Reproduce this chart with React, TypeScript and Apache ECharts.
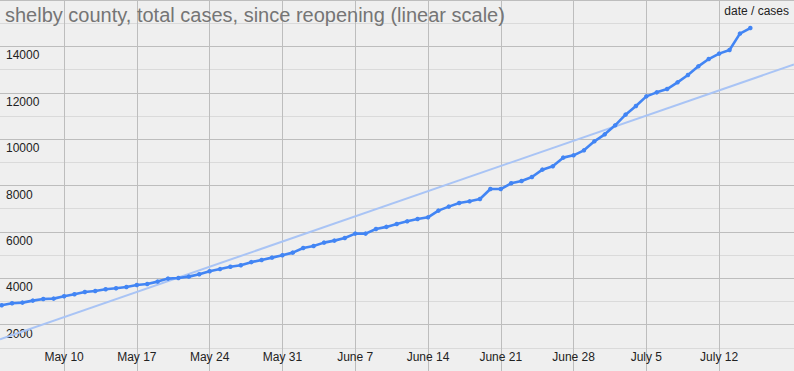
import React, { useEffect, useRef } from "react";
import * as echarts from "echarts";

// day index 0 = May 4 ... 72 = July 15
const cases = [
  2833, 2919, 2949, 3036, 3105, 3122, 3221, 3307, 3407, 3450,
  3523, 3566, 3622, 3708, 3751, 3855, 3984, 4010, 4070, 4170,
  4305, 4395, 4495, 4558, 4695, 4786, 4889, 4989, 5105, 5304,
  5390, 5536, 5623, 5735, 5925, 5925, 6123, 6215, 6339, 6455,
  6554, 6627, 6916, 7089, 7244, 7317, 7416, 7848, 7848, 8094,
  8193, 8365, 8684, 8827, 9202, 9301, 9517, 9905, 10206, 10594,
  11056, 11427, 11845, 12017, 12160, 12449, 12764, 13139, 13454, 13687,
  13842, 14549, 14790,
];

const tickDays = [6, 13, 20, 27, 34, 41, 48, 55, 62, 69];
const tickLabels = [
  "May 10", "May 17", "May 24", "May 31", "June 7",
  "June 14", "June 21", "June 28", "July 5", "July 12",
];

const xMin = -0.16;
const xMax = 76.2;
const trendDays = [xMin, xMax];
const trendValues = [1367, 13220];

const FONT = '"Liberation Sans", Arial, sans-serif';

export default function App() {
  const ref = useRef<HTMLDivElement>(null);

  useEffect(() => {
    if (!ref.current) return;
    const chart = echarts.init(ref.current, undefined, { renderer: "svg" });
    chart.setOption({
      animation: false,
      backgroundColor: "#efefef",
      textStyle: { fontFamily: FONT },
      title: [
        {
          text: "shelby county, total cases, since reopening (linear scale)",
          left: 5,
          top: 5,
          padding: 0,
          textStyle: { fontFamily: FONT, fontSize: 20, fontWeight: "normal", color: "#757575" },
        },
        {
          text: "date / cases",
          right: 5,
          top: 5,
          padding: 0,
          textStyle: { fontFamily: FONT, fontSize: 12, fontWeight: "normal", color: "#222" },
        },
      ],
      grid: { left: 0, right: 0, top: 0, bottom: 0, containLabel: false },
      xAxis: {
        type: "value",
        min: xMin,
        max: xMax,
        axisLine: { show: false },
        axisTick: { show: false, customValues: tickDays },
        axisLabel: {
          inside: true,
          margin: 8,
          customValues: tickDays,
          color: "#222",
          fontSize: 12,
          fontFamily: FONT,
          formatter: (v: number) => {
            const k = tickDays.indexOf(Math.round(v));
            return k >= 0 ? tickLabels[k] : "";
          },
        },
        splitLine: { show: true, lineStyle: { color: "#bdbdbd", width: 1 } },
      },
      yAxis: {
        type: "value",
        min: 0,
        max: 16000,
        interval: 1000,
        axisLine: { show: false },
        axisTick: { show: false },
        axisLabel: {
          inside: true,
          margin: 6,
          color: "#222",
          fontSize: 12,
          fontFamily: FONT,
          verticalAlign: "top",
          padding: [3, 0, 0, 0],
          formatter: (v: number) => (v % 2000 === 0 && v > 0 && v < 16000 ? String(v) : ""),
        },
        splitLine: { show: true, lineStyle: { color: ["#bdbdbd", "#dadada"], width: 1 } },
      },
      series: [
        {
          type: "line",
          data: trendDays.map((d, i) => [d, trendValues[i]]),
          showSymbol: false,
          silent: true,
          lineStyle: { color: "#a9c4f5", width: 2 },
          z: 2,
        },
        {
          type: "line",
          data: cases.map((v, i) => [i, v]),
          symbol: "circle",
          symbolSize: 4.5,
          itemStyle: { color: "#4285f4" },
          lineStyle: { color: "#4285f4", width: 2.6 },
          z: 3,
        },
      ],
    });
    return () => chart.dispose();
  }, []);

  return (
    <div
      ref={ref}
      style={{ position: "absolute", left: 0, top: 0, width: 794, height: 371 }}
    />
  );
}
